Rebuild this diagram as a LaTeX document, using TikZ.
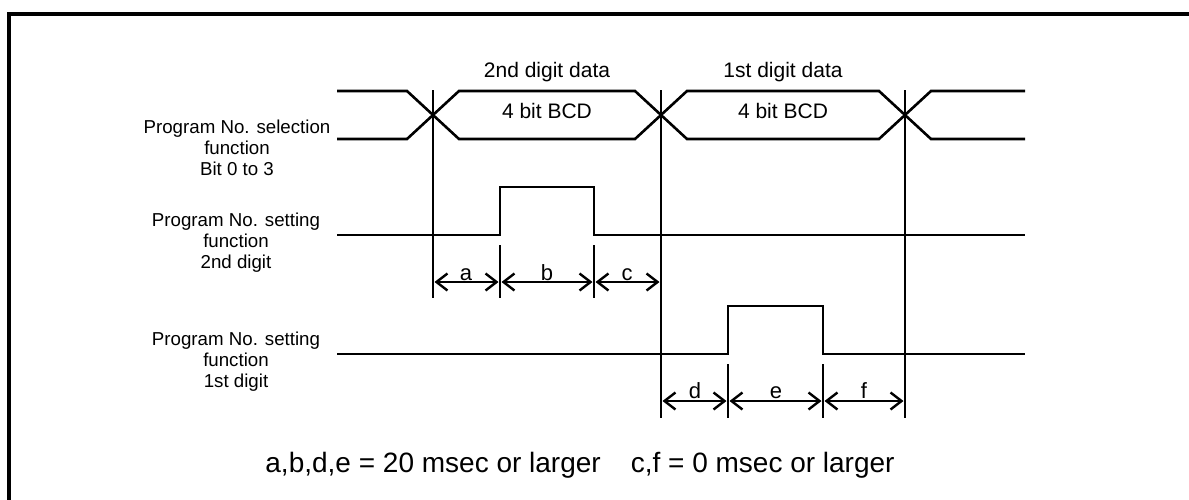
\documentclass[tikz,border=0pt]{standalone}
\usepackage{fontspec}
\setmainfont{Liberation Sans}
\usetikzlibrary{arrows.meta}
\begin{document}
\begin{tikzpicture}[x=1pt,y=-1pt,
  frame/.style={line width=4pt},
  sig/.style={line width=2.6pt,line join=miter},
  guide/.style={line width=1.3pt},
  dim/.style={line width=2.4pt,{Straight Barb[length=11pt,width=17pt,line width=2.4pt]}-{Straight Barb[length=11pt,width=17pt,line width=2.4pt]},shorten <=1.5pt,shorten >=1.5pt},
  lbl/.style={font=\fontsize{18.7}{21}\selectfont,align=center,inner sep=0pt},
  letter/.style={font=\fontsize{22}{24}\selectfont,anchor=base,inner sep=0pt},
  toplbl/.style={font=\fontsize{21}{24}\selectfont,inner sep=0pt},
  note/.style={font=\fontsize{28}{32}\selectfont,inner sep=0pt}]
\useasboundingbox (0,0) rectangle (1189,499);
\fill[white] (0,0) rectangle (1189,499);
% frame
\draw[frame] (9,502) -- (9,14) -- (1192,14);
% bus signal
\draw[sig] (337,91) -- (407,91) -- (459,139) -- (635,139) -- (687,91) -- (879,91) -- (931,139) -- (1025,139);
\draw[sig] (337,139) -- (407,139) -- (459,91) -- (635,91) -- (687,139) -- (879,139) -- (931,91) -- (1025,91);
% pulses
\draw[sig] (337,235) -- (500,235) -- (500,187) -- (594,187) -- (594,235) -- (1025,235);
\draw[sig] (337,354) -- (728,354) -- (728,306) -- (823,306) -- (823,354) -- (1025,354);
% guide lines
\coordinate (g1t) at (433,90); \coordinate (g1b) at (433,298);
\coordinate (g2t) at (661,90); \coordinate (g2b) at (661,418);
\coordinate (g3t) at (905,90); \coordinate (g3b) at (905,418);
\coordinate (t1t) at (500,245); \coordinate (t1b) at (500,298);
\coordinate (t2t) at (594,245); \coordinate (t2b) at (594,298);
\coordinate (t3t) at (728,364); \coordinate (t3b) at (728,418);
\coordinate (t4t) at (823,364); \coordinate (t4b) at (823,418);
\draw[guide] (g1t) -- (g1b);
\draw[guide] (g2t) -- (g2b);
\draw[guide] (g3t) -- (g3b);
\draw[guide] (t1t) -- (t1b);
\draw[guide] (t2t) -- (t2b);
\draw[guide] (t3t) -- (t3b);
\draw[guide] (t4t) -- (t4b);
% dimension arrows
\coordinate (pa) at (433,282); \coordinate (pb) at (500,282);
\coordinate (pc) at (594,282); \coordinate (pd) at (661,282);
\coordinate (qa) at (661,401); \coordinate (qb) at (728,401);
\coordinate (qc) at (823,401); \coordinate (qd) at (905,401);
\draw[dim] (pa) -- (pb);
\draw[dim] (pb) -- (pc);
\draw[dim] (pc) -- (pd);
\draw[dim] (qa) -- (qb);
\draw[dim] (qb) -- (qc);
\draw[dim] (qc) -- (qd);
\node[letter] (la) at (466,280) {a};
\node[letter] (lb) at (547,280) {b};
\node[letter] (lc) at (627,280) {c};
\node[letter] (ld) at (695,398) {d};
\node[letter] (le) at (776,398) {e};
\node[letter] (lf) at (864,398) {f};
% top labels
\node[toplbl] (d2) at (547,72) {2nd digit data};
\node[toplbl] (b2) at (547,111) {4 bit BCD};
\node[toplbl] (d1) at (783,72) {1st digit data};
\node[toplbl] (b1) at (783,111) {4 bit BCD};
% left labels
\node[lbl] (s1) at (237,148) {Program No. selection\\function\\Bit 0 to 3};
\node[lbl] (s2) at (236,243) {Program No. setting\\function\\2nd digit};
\node[lbl] (s3) at (236,362) {Program No. setting\\function\\1st digit};
% note
\node[note] (nt) at (580,465) {a,b,d,e = 20 msec or larger\hspace{30pt}c,f = 0 msec or larger};
\end{tikzpicture}
\end{document}
